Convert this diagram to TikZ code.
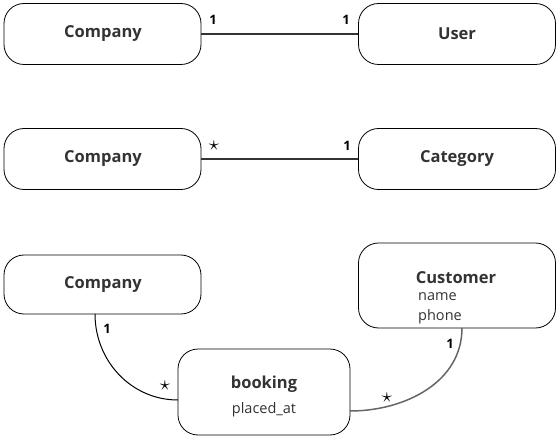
\documentclass[tikz,border=0pt]{standalone}
\usepackage{fontspec}
\setmainfont{Open Sans}
\definecolor{txt}{HTML}{333333}
\definecolor{ln}{HTML}{333333}
\definecolor{ln2}{HTML}{666666}
\begin{document}
\begin{tikzpicture}[x=1pt,y=-1pt,
  ent/.style={draw=black, line width=0.8pt, rounded corners=20pt, minimum width=197pt, minimum height=61pt, inner sep=0pt},
  ttl/.style={text=txt, inner sep=0pt, font=\fontsize{16.5}{19}\selectfont\bfseries},
  attr/.style={text=txt, inner sep=0pt, font=\fontsize{14.5}{17}\selectfont},
  mult/.style={font=\fontsize{13}{15}\selectfont\bfseries, text=black, inner sep=0pt},
  star/.style={font=\fontsize{20}{20}\selectfont, text=black, inner sep=0pt},
  conn/.style={draw=ln, line width=1.5pt},
  conn2/.style={draw=ln2, line width=1.5pt}]
\useasboundingbox (0,0) rectangle (560,441);
% row 1
\node[ent] (c1) at (102.5,34) {};
\node[ttl] at (103,33.5) {Company};
\node[ent] (u) at (457,34) {};
\node[ttl] at (457,33.5) {User};
\draw[conn] (c1.east) -- (u.west);
\node[mult] at (213,20) {1};
\node[mult] at (346,20) {1};
% row 2
\node[ent] (c2) at (102.5,159) {};
\node[ttl] at (103,158.5) {Company};
\node[ent] (cat) at (457,159) {};
\node[ttl] at (457,158.5) {Category};
\draw[conn] (c2.east) -- (cat.west);
\node[star] at (214,146) {$\star$};
\node[mult] at (347,146) {1};
% row 3
\node[ent, minimum height=59pt] (c3) at (102.5,284.5) {};
\node[ttl] at (103,284.5) {Company};
\node[ent, minimum height=85pt] (cu) at (457,285.5) {};
\node[ttl] at (456,278) {Customer};
\node[attr, anchor=west] at (418,297) {name};
\node[attr, anchor=west] at (418,317) {phone};
\node[ent, minimum width=172pt, minimum height=86pt] (b) at (264,392) {};
\node[ttl] at (264,384.5) {booking};
\node[attr] at (264,410) {placed\_at};
\coordinate (c3b) at (95,314);
\coordinate (bl) at (178,400);
\coordinate (cub) at (462,328);
\coordinate (br) at (350,411);
\draw[line width=1pt, draw=black] (c3b) to[out=-90,in=180,looseness=1] (bl);
\draw[conn2] (cub) to[out=-90,in=0,looseness=1] (br);
\node[mult] at (107,329) {1};
\node[star] at (165,386) {$\star$};
\node[mult] at (450,344) {1};
\node[star] at (387,398) {$\star$};
\end{tikzpicture}
\end{document}
